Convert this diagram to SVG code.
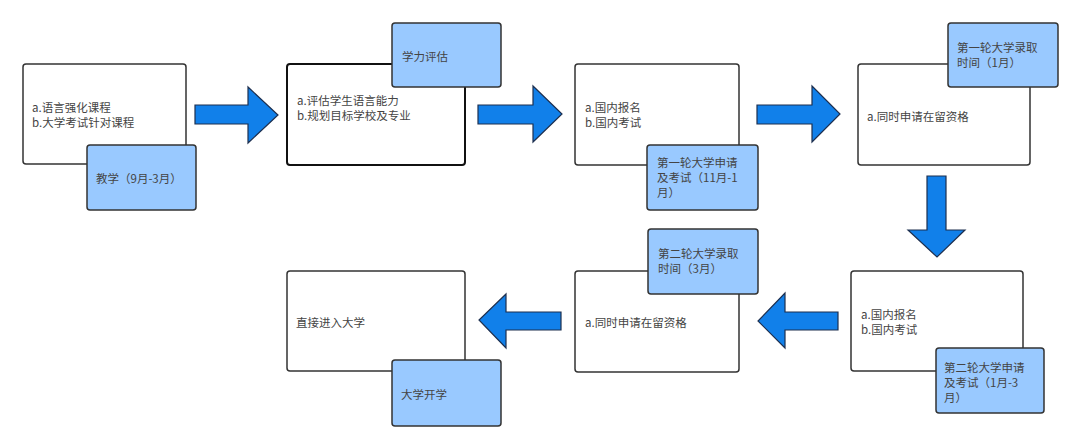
<svg xmlns="http://www.w3.org/2000/svg" width="1080" height="448" viewBox="0 0 1080 448">
<style>
.box{fill:#fff;stroke:#333;stroke-width:1.5}
.tag{fill:#99c9ff;stroke:#333;stroke-width:1.5}
.arr{fill:#1180ea;stroke:#1d2f4f;stroke-width:1.2;stroke-linejoin:miter}
text{font-family:"Noto Sans CJK SC","Liberation Sans",sans-serif;font-size:11.5px;fill:#444}
</style>
<rect width="1080" height="448" fill="#fff"/>
<g id="connectors">
<polygon class="arr" points="195,105 248,105 248,87 278,115 248,143 248,124 195,124"/>
<polygon class="arr" points="478,105 533,105 533,86 562,114 533,142 533,124 478,124"/>
<polygon class="arr" points="757,105 812,105 812,86 840,114 812,142 812,124 757,124"/>
<polygon class="arr" points="927,176 946,176 946,230 965,230 937,257 908,230 927,230"/>
<polygon class="arr" points="838,312 785,312 785,293 758,321 785,348 785,330 838,330"/>
<polygon class="arr" points="561,312 506,312 506,294 479,320 506,348 506,330 561,330"/>
</g>
<g id="node1">
<rect class="box" x="23" y="64" width="163" height="100" rx="3"/>
<text x="32" y="112">a.语言强化课程</text>
<text x="32" y="127">b.大学考试针对课程</text>
<rect class="tag" x="87" y="145" width="109" height="65" rx="3"/>
<text x="96" y="183">教学（9月-3月）</text>
</g>
<g id="node2">
<rect class="box" x="287" y="64" width="178" height="101" rx="3" style="stroke:#111;stroke-width:2"/>
<text x="297" y="105">a.评估学生语言能力</text>
<text x="297" y="120">b.规划目标学校及专业</text>
<rect class="tag" x="392" y="23" width="109" height="64" rx="3"/>
<text x="402" y="61">学力评估</text>
</g>
<g id="node3">
<rect class="box" x="575" y="64" width="164" height="101" rx="3"/>
<text x="585" y="112">a.国内报名</text>
<text x="585" y="127">b.国内考试</text>
<rect class="tag" x="647" y="145" width="111" height="65" rx="3"/>
<text x="657" y="167">第一轮大学申请</text>
<text x="657" y="182">及考试（11月-1</text>
<text x="657" y="197">月）</text>
</g>
<g id="node4">
<rect class="box" x="858" y="64" width="172" height="101" rx="3"/>
<text x="867" y="121">a.同时申请在留资格</text>
<rect class="tag" x="948" y="23" width="110" height="64" rx="3"/>
<text x="957" y="52">第一轮大学录取</text>
<text x="957" y="67">时间（1月）</text>
</g>
<g id="node5">
<rect class="box" x="851" y="271" width="172" height="100" rx="3"/>
<text x="861" y="319">a.国内报名</text>
<text x="861" y="334">b.国内考试</text>
<rect class="tag" x="936" y="348" width="108" height="65" rx="3"/>
<text x="944" y="372">第二轮大学申请</text>
<text x="944" y="387">及考试（1月-3</text>
<text x="944" y="402">月）</text>
</g>
<g id="node6">
<rect class="box" x="575" y="271" width="164" height="101" rx="3"/>
<text x="585" y="327">a.同时申请在留资格</text>
<rect class="tag" x="648" y="229" width="110" height="65" rx="3"/>
<text x="658" y="258">第二轮大学录取</text>
<text x="658" y="273">时间（3月）</text>
</g>
<g id="node7">
<rect class="box" x="287" y="271" width="178" height="100" rx="3"/>
<text x="296" y="327">直接进入大学</text>
<rect class="tag" x="392" y="360" width="109" height="66" rx="3"/>
<text x="401" y="399">大学开学</text>
</g>
</svg>
